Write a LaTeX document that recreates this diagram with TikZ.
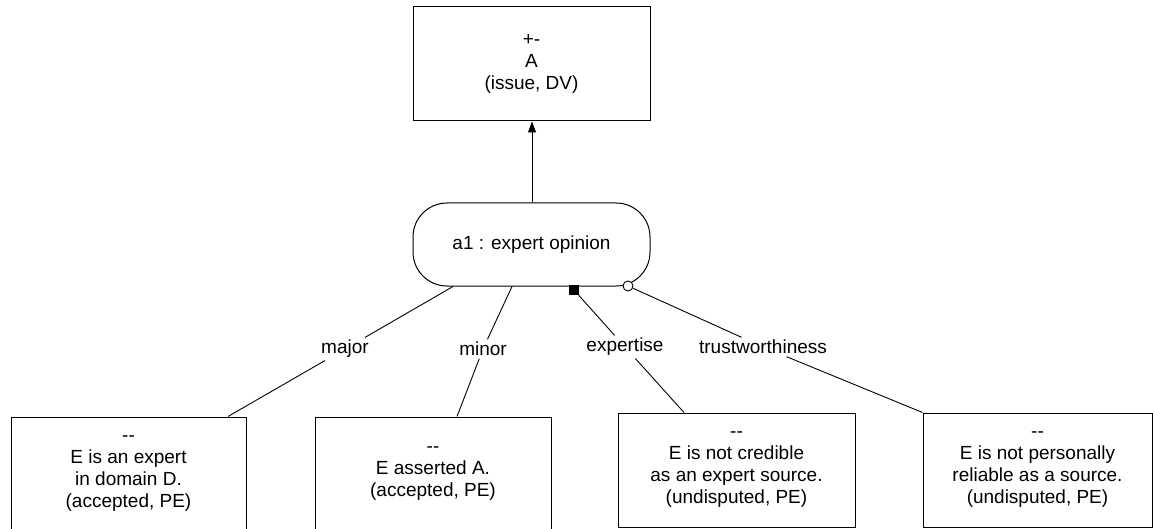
\documentclass[tikz,border=0pt]{standalone}
\usepackage{fontspec}
\setmainfont{Liberation Sans}
\usetikzlibrary{arrows.meta}
\begin{document}
\begin{tikzpicture}[x=1pt,y=-1pt,
  font=\fontsize{19}{22}\selectfont,
  box/.style={draw,line width=1pt,minimum width=235pt,minimum height=114pt,align=center,inner sep=0pt},
  roundbox/.style={draw,line width=1pt,rounded corners=34pt,minimum width=237pt,minimum height=83pt,inner sep=0pt},
  lab/.style={fill=white,inner sep=2.5pt},
  conn/.style={line width=0.9pt},
  sqmark/.style={fill=black,minimum size=10pt,inner sep=0pt},
  circmark/.style={draw,fill=white,circle,minimum size=10pt,inner sep=0pt,line width=0.9pt}]
\useasboundingbox (0,0) rectangle (1153,529);
% nodes
\node[box,minimum width=237pt] (A) at (531.5,64) {+-\\A\\(issue, DV)};
\node[roundbox] (r) at (531.5,244.5) {a1 : expert opinion};
\node[box] (b1) at (128.5,474) {-{}-\\E is an expert\\in domain D.\\(accepted, PE)};
\node[box,minimum width=236pt] (b2) at (433,474) {-{}-\\E asserted A.\\(accepted, PE)};
\node[box,minimum width=237pt] (b3) at (736.5,470) {-{}-\\E is not credible\\as an expert source.\\(undisputed, PE)};
\node[box,minimum width=229pt] (b4) at (1037.5,470) {-{}-\\E is not personally\\reliable as a source.\\(undisputed, PE)};
% labels
\node[lab] (lmaj) at (345,349) {major};
\node[lab] (lmin) at (483,349) {minor};
\node[lab] (lexp) at (625,347) {expertise};
\node[lab] (ltru) at (763,347) {trustworthiness};
% end markers
\node[sqmark] (sq) at (574,290) {};
% connectors
\draw[conn,-{Triangle[width=8pt,length=11pt]}] ([xshift=0.5pt]r.north) -- ([xshift=0.5pt]A.south);
\draw[conn] ([xshift=-78.5pt]r.south) -- (lmaj) -- ([xshift=99.5pt]b1.north);
\draw[conn] ([xshift=-19.5pt]r.south) -- (lmin) -- ([xshift=24pt]b2.north);
\draw[conn] (sq) -- (lexp) -- ([xshift=-52.5pt]b3.north);
\node[circmark] (ci) at (628,286) {};
\draw[conn] (ci) -- (ltru) -- (b4.north west);
\end{tikzpicture}
\end{document}
